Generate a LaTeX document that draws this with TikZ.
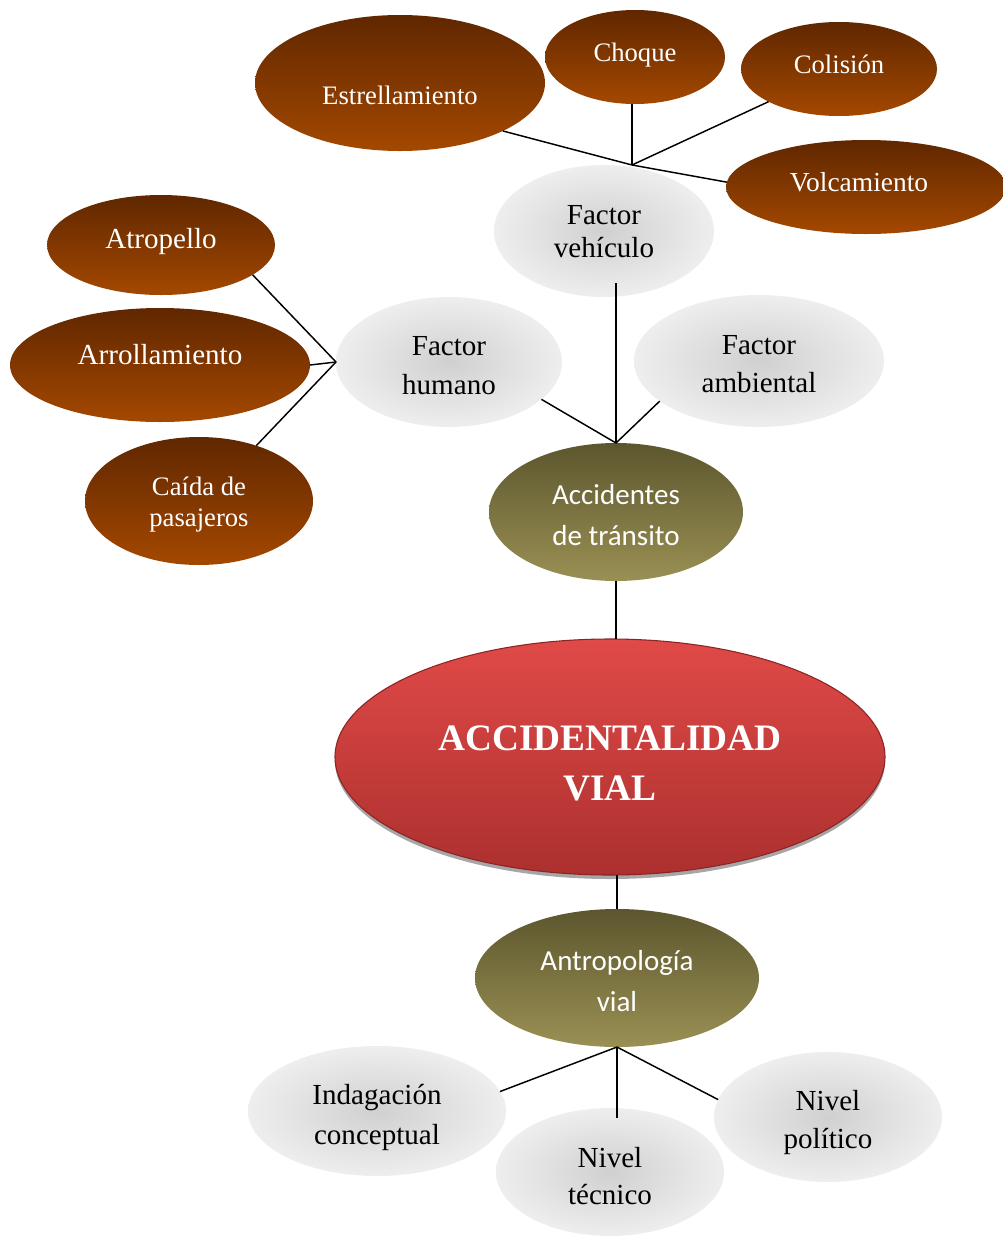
\documentclass[tikz,border=0pt]{standalone}
\usepackage{fontspec}
\setmainfont{Liberation Serif}
\newfontfamily\calib{Carlito}
\usetikzlibrary{shapes.geometric,shadows,calc}

\definecolor{brtop}{RGB}{96,39,0}
\definecolor{brbot}{RGB}{164,72,0}
\definecolor{gin}{RGB}{208,208,208}
\definecolor{gout}{RGB}{238,238,238}
\definecolor{oltop}{RGB}{92,86,46}
\definecolor{olbot}{RGB}{154,144,84}
\definecolor{rdtop}{RGB}{224,74,72}
\definecolor{rdbot}{RGB}{172,48,46}
\definecolor{rdedge}{RGB}{140,36,36}

% shifted, centred text block that keeps its natural size
\newcommand\tx[2]{\raisebox{#1}[\height][\depth]{\begin{tabular}{@{}c@{}}#2\end{tabular}}}

\tikzset{
 base/.style={ellipse, inner sep=0pt, outer sep=0pt},
 brownel/.style={base, top color=brtop, bottom color=brbot, text=white},
 grayel/.style={base, inner color=gin, outer color=gout, text=black},
 oliveel/.style={base, top color=oltop, bottom color=olbot, text=white,
   font=\calib\fontsize{21.75}{30.5}\selectfont},
 redel/.style={base, top color=rdtop, bottom color=rdbot, draw=rdedge, line width=0.8pt,
   text=white, font=\bfseries\fontsize{28}{37.5}\selectfont,
   drop shadow={shadow xshift=0pt, shadow yshift=-3pt, opacity=0.35, fill=black}},
 fsz/.style 2 args={font=\fontsize{#1}{#2}\selectfont},
 sz/.style 2 args={minimum width=#1pt, minimum height=#2pt},
 link/.style={line width=1.1pt, black}
}

\begin{document}
\begin{tikzpicture}[x=0.75pt, y=-0.75pt]
\useasboundingbox (0,0) rectangle (1003,1236);
\clip (0,0) rectangle (1003,1236);

% top group
\node[brownel, fsz={20}{24}, sz={217.5}{102}] (estr) at (400,83) {\tx{-11.25pt}{Estrellamiento}};
\node[brownel, fsz={20}{24}, sz={135}{70.5}] (choque) at (635,57) {\tx{1.5pt}{Choque}};
\node[brownel, fsz={20}{24}, sz={147}{70.5}] (colision) at (839,69) {\tx{1.5pt}{Colisión}};
\node[brownel, fsz={20.6}{24}, sz={210}{70.5}] (volc) at (866,187) {\hspace*{-10.5pt}\tx{1.5pt}{Volcamiento}};
\node[grayel, fsz={21.8}{24.75}, sz={165}{99}] (veh) at (604,231) {\tx{-2.25pt}{Factor\\vehículo}};
\coordinate (jV) at (632,165);

% left group
\node[brownel, fsz={21.8}{24}, sz={171}{75}] (atro) at (161,245) {\tx{2.25pt}{Atropello}};
\node[brownel, fsz={21.8}{24}, sz={225}{85.5}] (arro) at (160,365) {\tx{5.25pt}{Arrollamiento}};
\node[brownel, fsz={20}{23.25}, sz={171}{96}] (caida) at (199,501) {\tx{-3pt}{Caída de\\pasajeros}};
\node[grayel, fsz={21.8}{29.25}, sz={169.5}{97.5}] (humano) at (449,362) {\tx{-3.75pt}{Factor\\humano}};
\node[grayel, fsz={21.8}{28.5}, sz={187.5}{99}] (amb) at (759,361) {\tx{-3.75pt}{Factor\\ambiental}};

% centre
\node[oliveel, sz={190.5}{103.5}] (acc) at (616,512) {\tx{-3.5pt}{Accidentes\\de tránsito}};
\node[redel, sz={412.5}{177}] (vial) at (610,757) {\tx{-6pt}{ACCIDENTALIDAD\\VIAL}};
\node[oliveel, sz={213}{103.5}] (antro) at (617,978) {\tx{-3.75pt}{Antropología\\vial}};

% bottom group
\node[grayel, fsz={21.8}{30}, sz={193.5}{97.5}] (indag) at (377,1111) {\tx{-3.75pt}{Indagación\\conceptual}};
\node[grayel, fsz={21.8}{27.75}, sz={171}{96}] (tec) at (610,1172) {\tx{-5pt}{Nivel\\técnico}};
\node[grayel, fsz={21.8}{28.5}, sz={171}{97.5}] (pol) at (828,1117) {\tx{-3.75pt}{Nivel\\político}};

% connectors
\draw[link] (estr.-25) -- (jV);
\draw[link] (choque.south -| jV) -- (jV);
\draw[link] (colision) -- (jV);
\draw[link] (jV) -- (volc.178);

\draw[link] ($(veh.south -| acc.north)+(0,-14)$) -- (acc.north);
\draw[link] (humano.-22) -- (acc.north);
\draw[link] (amb.202) -- (acc.north);

\draw[link] (atro.-18) -- (humano.west);
\draw[link] (arro.east) -- (humano.west);
\draw[link] (caida.44) -- (humano.west);

\draw[link] (acc.south) -- (acc.south |- vial.north);
\draw[link] (vial.south -| antro.north) -- (antro.north);

\draw[link] (antro.south) -- (indag.9);
\draw[link] (antro.south) -- ($(antro.south |- tec.north)+(0,10)$);
\draw[link] (antro.south) -- (pol.171);
\end{tikzpicture}
\end{document}
